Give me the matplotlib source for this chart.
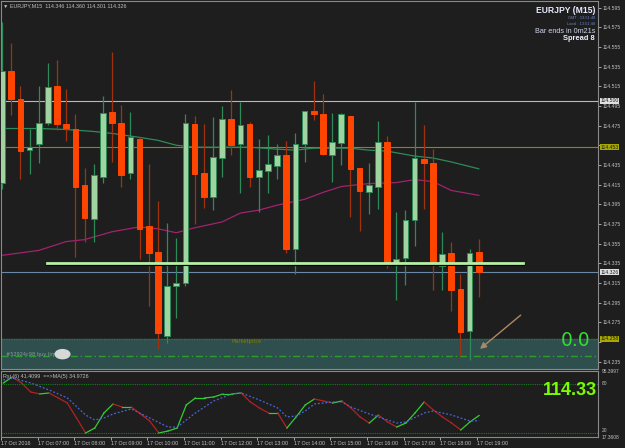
import matplotlib.pyplot as plt
from matplotlib.patches import Ellipse
import matplotlib.transforms as mtransforms

# EURJPY M15, 17 Oct 2016, candles from 06:00 to 19:00
opens = [114.417, 114.531, 114.502, 114.450, 114.456, 114.478, 114.515, 114.477, 114.472, 114.415,
         114.380, 114.423, 114.489, 114.478, 114.427, 114.461, 114.373, 114.346, 114.261, 114.312,
         114.315, 114.477, 114.427, 114.402, 114.442, 114.482, 114.456, 114.477, 114.423, 114.429,
         114.434, 114.445, 114.349, 114.456, 114.490, 114.487, 114.445, 114.457, 114.485, 114.432,
         114.407, 114.413, 114.458, 114.335, 114.340, 114.379, 114.441, 114.437, 114.332, 114.345,
         114.309, 114.266, 114.346]
highs = [114.580, 114.559, 114.515, 114.472, 114.515, 114.539, 114.542, 114.512, 114.487, 114.432,
         114.436, 114.505, 114.550, 114.496, 114.489, 114.463, 114.436, 114.398, 114.376, 114.361,
         114.487, 114.485, 114.477, 114.484, 114.495, 114.511, 114.499, 114.479, 114.461, 114.465,
         114.456, 114.459, 114.467, 114.490, 114.520, 114.507, 114.488, 114.488, 114.485, 114.432,
         114.437, 114.480, 114.464, 114.387, 114.389, 114.499, 114.476, 114.451, 114.367, 114.357,
         114.324, 114.349, 114.360]
lows = [114.410, 114.486, 114.421, 114.426, 114.437, 114.476, 114.471, 114.459, 114.341, 114.357,
        114.357, 114.417, 114.438, 114.413, 114.421, 114.339, 114.291, 114.248, 114.254, 114.279,
        114.312, 114.375, 114.391, 114.389, 114.423, 114.445, 114.406, 114.413, 114.387, 114.406,
        114.421, 114.345, 114.324, 114.438, 114.481, 114.445, 114.418, 114.435, 114.382, 114.368,
        114.385, 114.390, 114.330, 114.298, 114.313, 114.353, 114.390, 114.308, 114.308, 114.286,
        114.241, 114.237, 114.301]
closes = [114.530, 114.502, 114.449, 114.453, 114.478, 114.514, 114.477, 114.473, 114.413, 114.381,
          114.425, 114.488, 114.478, 114.425, 114.463, 114.370, 114.345, 114.264, 114.312, 114.315,
          114.478, 114.426, 114.402, 114.443, 114.482, 114.455, 114.476, 114.423, 114.430, 114.436,
          114.445, 114.349, 114.456, 114.490, 114.487, 114.446, 114.458, 114.487, 114.431, 114.408,
          114.415, 114.458, 114.335, 114.339, 114.379, 114.442, 114.437, 114.333, 114.344, 114.308,
          114.265, 114.345, 114.326]

# moving averages on price (read at some bars)
ma_fast_idx = [0, 4, 7, 10, 12, 15, 17, 19, 21, 27, 30, 32, 34, 38, 40, 42, 45, 47, 49, 52]
ma_fast = [114.472, 114.472, 114.471, 114.469, 114.467, 114.463, 114.460, 114.455, 114.453, 114.453,
           114.451, 114.450, 114.452, 114.452, 114.450, 114.449, 114.444, 114.442, 114.438, 114.431]
ma_slow_idx = [0, 4, 7, 9, 12, 15, 17, 19, 21, 24, 26, 28, 30, 33, 35, 37, 40, 43, 45, 47, 49, 52]
ma_slow = [114.343, 114.348, 114.357, 114.359, 114.367, 114.372, 114.370, 114.366, 114.371, 114.377,
           114.386, 114.389, 114.394, 114.400, 114.407, 114.413, 114.416, 114.417, 114.420, 114.418,
           114.409, 114.404]

# RSI(6) and its MA(5)
rsi = [81.2, 88.6, 81.2, 70.2, 67.8, 69.0, 62.9, 56.7, 38.4, 20.0,
       26.1, 44.5, 55.5, 51.8, 51.8, 43.3, 34.7, 20.0, 22.4, 26.1,
       54.3, 62.9, 62.9, 64.1, 67.8, 67.8, 69.0, 58.0, 50.6, 44.5,
       44.5, 26.1, 39.6, 54.3, 61.6, 59.2, 56.7, 59.2, 50.6, 39.6,
       32.2, 42.0, 33.5, 27.3, 32.2, 44.5, 58.0, 48.2, 39.6, 32.2,
       23.7, 33.5, 41.4]
rsi_ma_idx = [0, 1, 3, 5, 7, 9, 10, 11, 12, 14, 16, 18, 19, 21, 23, 25, 26, 28, 30, 31,
              32, 33, 34, 36, 37, 38, 40, 41, 43, 44, 46, 47, 49, 51, 52]
rsi_ma = [84.9, 87.3, 81.2, 72.7, 62.9, 42.0, 35.9, 38.4, 43.3, 49.4, 38.4, 27.3, 27.3, 44.5, 59.2,
          67.8, 69.0, 60.4, 50.6, 39.6, 40.8, 46.9, 55.5, 58.0, 58.0, 51.8, 43.3, 39.6, 32.2, 33.5,
          44.5, 46.9, 42.0, 34.7, 35.0]

time_labels = ["17 Oct 2016", "17 Oct 07:00", "17 Oct 08:00", "17 Oct 09:00", "17 Oct 10:00",
               "17 Oct 11:00", "17 Oct 12:00", "17 Oct 13:00", "17 Oct 14:00", "17 Oct 15:00",
               "17 Oct 16:00", "17 Oct 17:00", "17 Oct 18:00", "17 Oct 19:00"]

# levels drawn on the chart
level_high = 114.500
level_ask = 114.453
level_bid = 114.326
support = 114.335
zone_top = 114.258
zone_mid = 114.241
arrow_from = (56.8, 114.284)
arrow_to = (51.9, 114.246)

bg = '#1e1e1e'
grey = '#c0c0c0'
up_fill, up_edge = '#9fd39f', '#2e8b57'
dn_fill, dn_wick = '#ff4500', '#a0330d'

fig = plt.figure(figsize=(6.25, 4.48), dpi=100, facecolor=bg)
ax = fig.add_axes([1 / 625, 79 / 448, 597 / 625, 368 / 448], facecolor=bg)
ax2 = fig.add_axes([1 / 625, 11 / 448, 597 / 625, 66 / 448], facecolor=bg)

n = len(opens)
xs = list(range(n))
xlim = (-0.11, 65.0)

# --- main price panel ---
ax.axhspan(114.20, zone_top, color='#2f4f4f', zorder=0)
ax.axhline(zone_top, color='#3f6f3f', lw=0.9, ls=(0, (1, 1)), zorder=1)
ax.axhline(zone_mid, color='#2aa02a', lw=1.0, ls=(0, (5, 2, 1, 2)), zorder=1)
ax.axhline(level_high, color='#b8b8b8', lw=0.8, zorder=1)
ax.axhline(level_ask, color='#8a8a00', lw=0.8, zorder=1)
ax.axhline(level_bid, color='#6a88a8', lw=0.8, zorder=1)

ax.plot(ma_fast_idx, ma_fast, color='#2e8b57', lw=0.9, zorder=2)
ax.plot(ma_slow_idx, ma_slow, color='#a3226e', lw=0.9, zorder=2)

for i in xs:
    o, h, l, c = opens[i], highs[i], lows[i], closes[i]
    up = c >= o
    ax.vlines(i, l, h, color=up_edge if up else dn_wick, lw=0.9, zorder=3)
    ax.bar(i, max(abs(c - o), 0.0008), bottom=min(o, c), width=0.62,
           color=up_fill if up else dn_fill, edgecolor=up_edge if up else dn_fill,
           linewidth=0.7, zorder=4)

# support line with shadow
ax.plot([4.9, 56.8], [support - 0.0012, support - 0.0012], color='black', lw=2.2, zorder=5)
ax.plot([4.9, 56.8], [support, support], color='#b6f0a6', lw=2.0, zorder=6)

ax.annotate('', xy=arrow_to, xytext=arrow_from, zorder=7,
            arrowprops=dict(arrowstyle='-|>', color='#b08866', lw=1.0, mutation_scale=9))

ax.text(62.5, 114.247, '0.0', color='#33dd33', fontsize=13.5, ha='center', va='bottom', zorder=7)
ax.text(0.4, 114.2425, '#52924c98 buy limit', color='#8a9a9a', fontsize=3.6, va='center', zorder=7)
ax.add_patch(Ellipse((6.6, 114.2425), 1.6, 0.0092, color='#d8d8d8', zorder=7))
ax.text(25.0, 114.2555, 'Marketprice', color='#7f7f00', fontsize=3.6, va='center', zorder=7)

ax.text(0.003, 0.993, '\u25bc EURJPY,M15  114.346 114.360 114.301 114.326', transform=ax.transAxes,
        color=grey, fontsize=3.9, va='top', ha='left', family='Liberation Sans')
ax.text(0.995, 0.987, 'EURJPY (M15)', transform=ax.transAxes, color='#e6ecff', fontsize=6.2,
        fontweight='bold', ha='right', va='top', family='Liberation Sans')
ax.text(0.995, 0.960, 'GMT : 13:51:48', transform=ax.transAxes, color='#6f86c8', fontsize=2.8,
        ha='right', va='top', family='Liberation Sans')
ax.text(0.995, 0.943, 'Local : 13:51:48', transform=ax.transAxes, color='#6f86c8', fontsize=2.8,
        ha='right', va='top', family='Liberation Sans')
ax.text(0.995, 0.927, 'Bar ends in 0m21s', transform=ax.transAxes, color='#cfd6ea', fontsize=5.2,
        ha='right', va='top', family='Liberation Sans')
ax.text(0.995, 0.907, 'Spread 8', transform=ax.transAxes, color='#eef2ff', fontsize=5.4,
        fontweight='bold', ha='right', va='top', family='Liberation Sans')

# right price scale; labels hidden under the marker boxes are left blank
price_ticks = [round(114.235 + 0.02 * k, 3) for k in range(19)]
hidden = [114.255, 114.455]
ax.set_xlim(*xlim)
ax.set_ylim(114.2274, 114.6017)
ax.yaxis.tick_right()
ax.set_yticks(price_ticks)
ax.set_yticklabels(['' if v in hidden else f'{v:.3f}' for v in price_ticks])
ax.tick_params(axis='y', labelsize=3.7, colors=grey, length=2, pad=1.5, width=0.6)
ax.set_xticks([])
for lab in ax.get_yticklabels():
    lab.set_family('Liberation Sans')

trans = mtransforms.blended_transform_factory(ax.transAxes, ax.transData)
for val, fc, tc in [(level_high, '#e0e0e0', '#202020'), (level_ask, '#a8a800', '#202020'),
                    (level_bid, '#e0e0e0', '#202020'), (zone_top, '#a8a800', '#202020')]:
    ax.text(1.004, val, f'{val:.3f}', transform=trans, fontsize=3.7, color=tc, va='center', ha='left',
            family='Liberation Sans', clip_on=False, zorder=10,
            bbox=dict(boxstyle='square,pad=0.15', fc=fc, ec='none'))

for sp in ax.spines.values():
    sp.set_color('#8a8a8a')
    sp.set_linewidth(0.8)

# --- RSI panel ---
for i in range(n - 1):
    col = '#32cd32' if rsi[i + 1] >= rsi[i] else '#b22222'
    ax2.plot([i, i + 1], [rsi[i], rsi[i + 1]], color=col, lw=0.9)
ax2.plot(rsi_ma_idx, rsi_ma, color='#4a66d6', lw=0.9, ls=(0, (1.5, 1.5)))
ax2.axhline(80, color='#1a7a1a', lw=0.8, ls=(0, (1, 1)))
ax2.axhline(20, color='#1a7a1a', lw=0.8, ls=(0, (1, 1)))

ax2.set_xlim(*xlim)
ax2.set_ylim(15.1, 95.9)
ax2.set_yticks([])
tick_pos = [4 * k - 0.25 for k in range(len(time_labels))]
ax2.set_xticks(tick_pos)
ax2.set_xticklabels(time_labels)
ax2.tick_params(axis='x', labelsize=3.9, colors=grey, length=2, pad=1.2, width=0.6)
for lab in ax2.get_xticklabels():
    lab.set_ha('left')
    lab.set_family('Liberation Sans')

ax2.text(0.004, 0.96, 'Rsi (6) 41.4099  ==>MA(5) 34.9726', transform=ax2.transAxes, color=grey,
         fontsize=3.9, va='top', family='Liberation Sans')
ax2.text(0.999, 0.70, '114.33', transform=ax2.transAxes, color='#7cfc00', fontsize=13,
         fontweight='bold', ha='right', va='center', family='Liberation Sans')
rsi_trans = mtransforms.blended_transform_factory(ax2.transAxes, ax2.transData)
for val, txt, va in [(95.4, '95.3997', 'center'), (80, '80', 'center'),
                     (20.5, '20', 'bottom'), (17.0, '17.3608', 'top')]:
    ax2.text(1.006, val, txt, transform=rsi_trans, color=grey, fontsize=3.5, va=va, ha='left',
             clip_on=False, family='Liberation Sans')
for sp in ax2.spines.values():
    sp.set_color('#8a8a8a')
    sp.set_linewidth(0.8)

fig.savefig('out.png', dpi=100, facecolor=bg)
